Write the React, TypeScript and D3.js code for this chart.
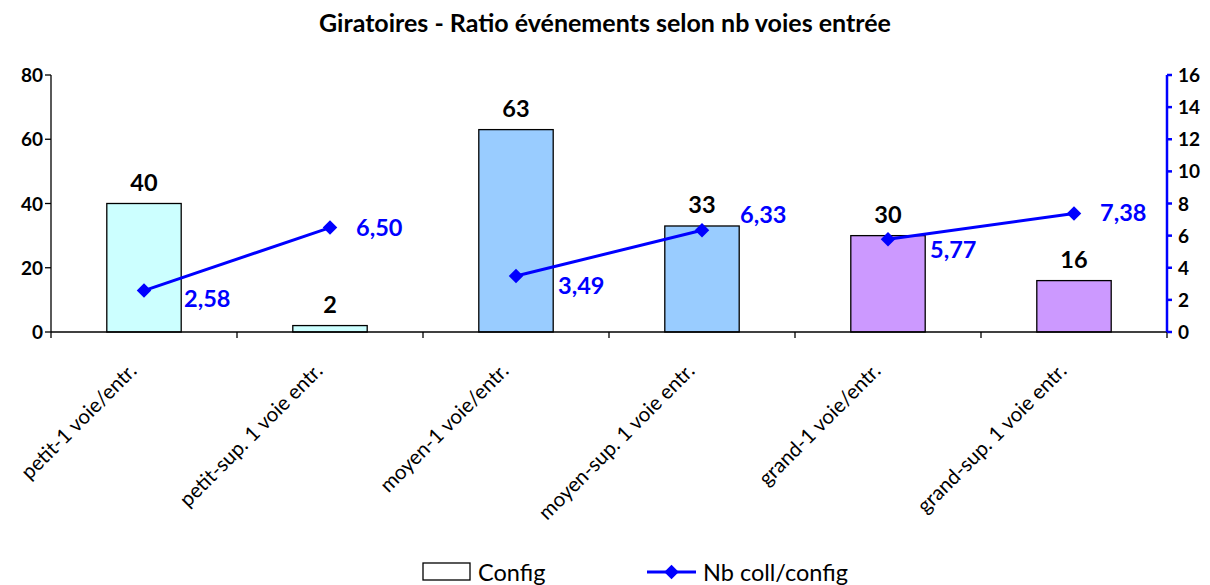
import React from "react";
import * as d3 from "d3";

const categories = [
  "petit-1 voie/entr.",
  "petit-sup. 1 voie entr.",
  "moyen-1 voie/entr.",
  "moyen-sup. 1 voie entr.",
  "grand-1 voie/entr.",
  "grand-sup. 1 voie entr.",
];
const sizeGroups = ["petit", "petit", "moyen", "moyen", "grand", "grand"];
const configValues = [40, 2, 63, 33, 30, 16];
const ratioValues = [2.58, 6.5, 3.49, 6.33, 5.77, 7.38];
const barColors = ["#CCFFFF", "#CCFFFF", "#99CCFF", "#99CCFF", "#CC99FF", "#CC99FF"];
const leftTicks = [0, 20, 40, 60, 80];
const rightTicks = [0, 2, 4, 6, 8, 10, 12, 14, 16];
const title = "Giratoires - Ratio événements selon nb voies entrée";
const seriesNames = ["Config", "Nb coll/config"];

// label placement tweaks (layout only)
const ratioLabelShift: [number, number][] = [
  [40, 8], [26, 0], [42, 10], [38, -15], [42, 11], [26, 0],
];

const W = 1210, H = 585;
const M = { left: 51, right: 1167, top: 75, bottom: 332 };
const FONT = "Lato, 'Open Sans', sans-serif";

export default function App() {
  const x = d3.scaleBand<string>().domain(categories).range([M.left, M.right]).paddingInner(0).paddingOuter(0);
  const yL = d3.scaleLinear().domain([0, 80]).range([M.bottom, M.top]);
  const yR = d3.scaleLinear().domain([0, 16]).range([M.bottom, M.top]);
  const bw = x.bandwidth() * 0.4;
  const cx = (c: string) => (x(c) as number) + x.bandwidth() / 2;
  const line = d3.line<number>().x((i) => cx(categories[i])).y((i) => yR(ratioValues[i]));
  const segments = Array.from(d3.group(d3.range(categories.length), (i) => sizeGroups[i]).values());
  const fmt = (v: number) => v.toFixed(2).replace(".", ",");
  const boundaries = d3.range(categories.length + 1).map((i) => M.left + i * x.bandwidth());
  const diamond = d3.symbol(d3.symbolSquare, 105)() || "";

  return (
    <svg width={W} height={H} style={{ position: "absolute", left: 0, top: 0, background: "#fff" }} fontFamily={FONT}>
      <text x={605} y={32} textAnchor="middle" fontSize={25} fontWeight="bold">{title}</text>

      {/* bars */}
      {configValues.map((v, i) => (
        <g key={"b" + i}>
          <rect x={cx(categories[i]) - bw / 2} y={yL(v)} width={bw} height={M.bottom - yL(v)}
            fill={barColors[i]} stroke="#000" strokeWidth={1.3} />
          <text x={cx(categories[i])} y={yL(v) - 13} textAnchor="middle" fontSize={23.5} fontWeight="bold">{v}</text>
        </g>
      ))}

      {/* left axis */}
      <line x1={M.left} x2={M.left} y1={M.top} y2={M.bottom} stroke="#000" strokeWidth={1.3} />
      {leftTicks.map((t) => (
        <g key={"l" + t}>
          <line x1={M.left - 6} x2={M.left} y1={yL(t)} y2={yL(t)} stroke="#000" strokeWidth={1.3} />
          <text x={M.left - 8} y={yL(t) + 7} textAnchor="end" fontSize={19} fontWeight="bold">{t}</text>
        </g>
      ))}

      {/* bottom axis */}
      <line x1={M.left} x2={M.right} y1={M.bottom} y2={M.bottom} stroke="#000" strokeWidth={1.3} />
      {boundaries.map((b, i) => (
        <line key={"t" + i} x1={b} x2={b} y1={M.bottom} y2={M.bottom + 6} stroke="#000" strokeWidth={1.3} />
      ))}
      {categories.map((c) => (
        <text key={"c" + c} transform={`translate(${cx(c) - 6},${M.bottom + 40}) rotate(-45)`}
          textAnchor="end" fontSize={20.5}>{c}</text>
      ))}

      {/* right axis */}
      <line x1={M.right} x2={M.right} y1={M.top} y2={M.bottom} stroke="#0000FF" strokeWidth={2.5} />
      {rightTicks.map((t) => (
        <g key={"r" + t}>
          <line x1={M.right} x2={M.right + 5} y1={yR(t)} y2={yR(t)} stroke="#0000FF" strokeWidth={2.5} />
          <text x={M.right + 11} y={yR(t) + 7} textAnchor="start" fontSize={19} fontWeight="bold">{t}</text>
        </g>
      ))}

      {/* line series, one segment per size group */}
      {segments.map((seg, k) => (
        <path key={"s" + k} d={line(seg) || ""} fill="none" stroke="#0000FF" strokeWidth={3} />
      ))}
      {ratioValues.map((v, i) => {
        const px = cx(categories[i]), py = yR(v);
        return (
          <g key={"p" + i}>
            <path d={diamond} transform={`translate(${px},${py}) rotate(45)`} fill="#0000FF" />
            <text x={px + ratioLabelShift[i][0]} y={py + ratioLabelShift[i][1] + 8} fontSize={23.5} fontWeight="bold" fill="#0000FF">{fmt(v)}</text>
          </g>
        );
      })}

      {/* legend */}
      <rect x={423} y={563} width={47} height={17} fill="#fff" stroke="#000" strokeWidth={1.3} />
      <text x={478} y={581} fontSize={23.5}>{seriesNames[0]}</text>
      <line x1={647} x2={696} y1={572} y2={572} stroke="#0000FF" strokeWidth={3} />
      <path d={diamond} transform="translate(671.5,572) rotate(45)" fill="#0000FF" />
      <text x={703} y={581} fontSize={23.5}>{seriesNames[1]}</text>
    </svg>
  );
}
